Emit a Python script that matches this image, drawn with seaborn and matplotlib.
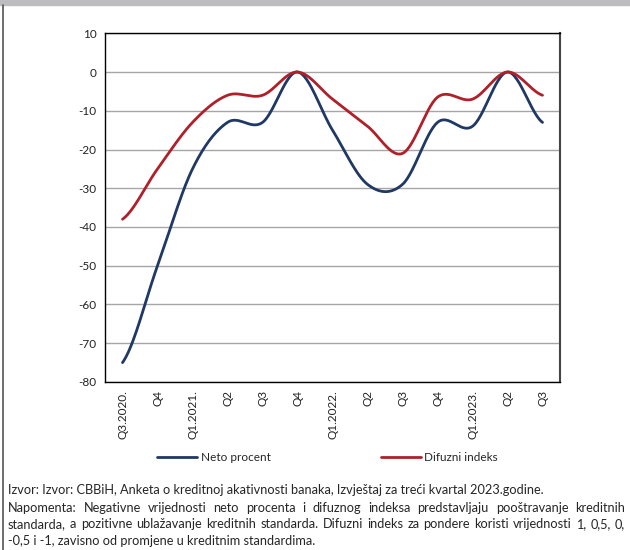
#!/usr/bin/env python3

import numpy as np
import pandas as pd
import seaborn as sns
import matplotlib.pyplot as plt
from matplotlib.lines import Line2D
from matplotlib.patches import Rectangle

# quarters on the x axis
quarters = ['Q3.2020.', 'Q4', 'Q1.2021.', 'Q2', 'Q3', 'Q4', 'Q1.2022.',
            'Q2', 'Q3', 'Q4', 'Q1.2023.', 'Q2', 'Q3']
neto_procent = [-75, -50, -25, -13, -13, 0, -15, -29, -29, -13, -14, 0, -13]
difuzni_indeks = [-38, -25, -13, -6, -6, 0, -7, -14, -21, -6.5, -7, 0, -6]

series_names = ['Neto procent', 'Difuzni indeks']
colors = {'Neto procent': '#1f3864', 'Difuzni indeks': '#b0202a'}

source_text = ('Izvor: Izvor: CBBiH, Anketa o kreditnoj akativnosti banaka, '
               'Izvještaj za treći kvartal 2023.godine.')
note_lines = [
    'Napomenta: Negativne vrijednosti neto procenta i difuznog indeksa '
    'predstavljaju pooštravanje kreditnih',
    'standarda, a pozitivne ublažavanje kreditnih standarda. Difuzni indeks '
    'za pondere koristi vrijednosti 1, 0,5, 0,',
    '-0,5 i -1, zavisno od promjene u kreditnim standardima.',
]


def smooth(y, steps=30):
    # Excel-like "smoothed line": cardinal (Catmull-Rom) spline between
    # the read points, used only for drawing the curve
    y = np.asarray(y, dtype=float)
    n = len(y)
    m = np.zeros(n)
    m[1:-1] = (y[2:] - y[:-2]) / 2
    m[0] = (y[1] - y[0]) / 2
    m[-1] = (y[-1] - y[-2]) / 2
    xs, ys = [], []
    for i in range(n - 1):
        t = np.linspace(0, 1, steps, endpoint=False)
        h00 = 2 * t**3 - 3 * t**2 + 1
        h10 = t**3 - 2 * t**2 + t
        h01 = -2 * t**3 + 3 * t**2
        h11 = t**3 - t**2
        xs.append(i + t)
        ys.append(h00 * y[i] + h10 * m[i] + h01 * y[i + 1] + h11 * m[i + 1])
    xs.append(np.array([n - 1]))
    ys.append(np.array([y[-1]]))
    return np.concatenate(xs), np.concatenate(ys)


def justified_line(fig, text, x0, x1, y, fontsize):
    # place words so the line fills x0..x1 (figure pixels)
    renderer = fig.canvas.get_renderer()
    words = text.split(' ')
    arts = [fig.text(0, y, w, fontsize=fontsize, va='baseline', ha='left')
            for w in words]
    widths = [a.get_window_extent(renderer).width for a in arts]
    gap = (x1 - x0 - sum(widths)) / (len(words) - 1)
    x = x0
    for a, w in zip(arts, widths):
        a.set_x(x / 630)
        x += w + gap


frames = []
for name, vals in zip(series_names, [neto_procent, difuzni_indeks]):
    sx, sy = smooth(vals)
    frames.append(pd.DataFrame({'x': sx, 'value': sy, 'series': name}))
data = pd.concat(frames, ignore_index=True)

sns.set_style('white')
plt.rcParams['font.family'] = ['Lato', 'DejaVu Sans']
plt.rcParams['axes.unicode_minus'] = False

fig = plt.figure(figsize=(6.3, 5.5), dpi=100)
ax = fig.add_axes([0.1667, 0.3055, 0.7222, 0.634])

sns.lineplot(data=data, x='x', y='value', hue='series',
             palette=colors, linewidth=2.0, sort=False,
             legend=False, ax=ax)

ax.set_xlim(-0.5, len(quarters) - 0.5)
ax.set_ylim(-80, 10)
ax.set_yticks(range(-80, 11, 10))
ax.set_xticks(range(len(quarters)))
ax.set_xticklabels(quarters, rotation=90)
ax.tick_params(axis='both', length=0, labelsize=8.5, colors='#222222',
               pad=6)
ax.set_xlabel('')
ax.set_ylabel('')
ax.yaxis.grid(True, color='#a6a6a6', linewidth=1.0)
ax.set_axisbelow(True)
for side in ['left', 'top', 'bottom']:
    ax.spines[side].set_color('black')
    ax.spines[side].set_linewidth(1.0)
ax.spines['right'].set_color('#444444')
ax.spines['right'].set_linewidth(1.5)

handles = [Line2D([0], [0], color=colors[n], lw=2.0) for n in series_names]
fig.legend(handles, series_names, loc='center', ncol=2,
           bbox_to_anchor=(0.52, 0.168), frameon=False, fontsize=8.5,
           handlelength=3.4, handletextpad=0.3, columnspacing=9.3)

# grey band at top and left frame line
fig.patches.append(Rectangle((0, 1 - 5 / 550), 1, 5 / 550,
                             transform=fig.transFigure, color='#bdbdbf',
                             zorder=0))
fig.add_artist(Line2D([2.5 / 630, 2.5 / 630], [0, 1 - 5 / 550],
                      transform=fig.transFigure, color='#555555', lw=1.2))

fs = 9.2
fig.text(8 / 630, 1 - 494 / 550, source_text, fontsize=fs,
         va='baseline', ha='left')
for i, line in enumerate(note_lines):
    y = 1 - (512 + 16.5 * i) / 550
    if i < len(note_lines) - 1:
        justified_line(fig, line, 8, 625, y, fs)
    else:
        fig.text(8 / 630, y, line, fontsize=fs, va='baseline', ha='left')

fig.savefig('out.png', dpi=100)
